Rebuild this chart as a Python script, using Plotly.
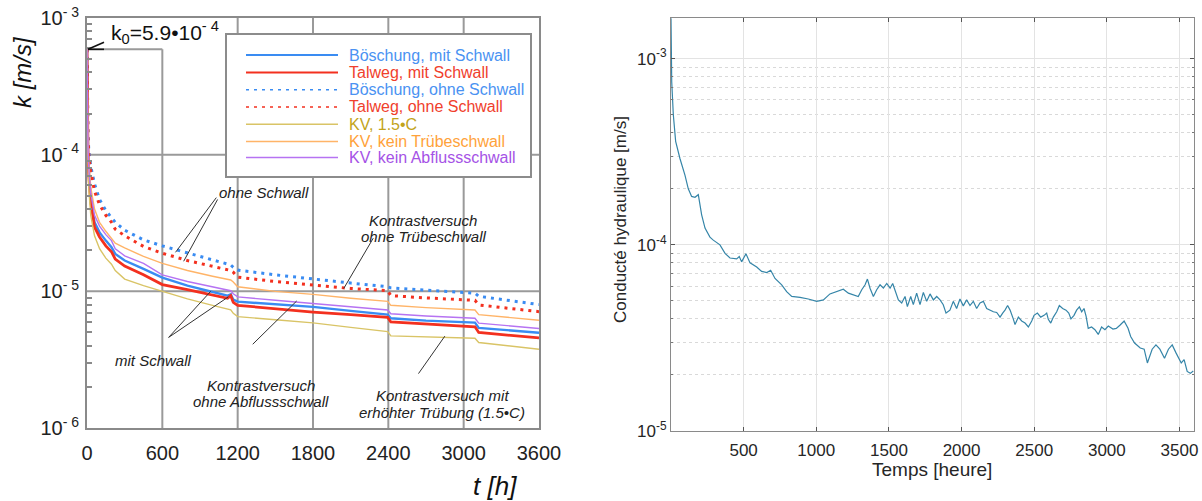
import math
import plotly.graph_objects as go

# ---------------------------------------------------------------- data
# left panel: permeability k [m/s] over time t [h]
T_LEFT = [0, 3, 8, 15, 30, 60, 100, 150, 195, 225, 300, 450, 600, 800, 1000,
          1120, 1145, 1165, 1200, 1500, 1800, 2100, 2395, 2420, 2700, 3090, 3120, 3600]

K_BOE_MIT = [5.9e-4, 1.9e-4, 1.05e-4, 7.2e-5, 4.8e-5, 3.2e-5, 2.7e-5, 2.35e-5, 2.1e-5, 1.88e-5,
             1.68e-5, 1.46e-5, 1.26e-5, 1.1e-5, 9.9e-6, 9.3e-6, 9.5e-6, 8.7e-6, 8.4e-6, 8.0e-6,
             7.7e-6, 7.2e-6, 6.75e-6, 6.35e-6, 6.1e-6, 5.9e-6, 5.4e-6, 4.98e-6]
K_TAL_MIT = [5.9e-4, 1.8e-4, 1.0e-4, 6.8e-5, 4.5e-5, 2.95e-5, 2.5e-5, 2.15e-5, 1.95e-5, 1.72e-5,
             1.53e-5, 1.32e-5, 1.12e-5, 1.03e-5, 9.4e-6, 8.9e-6, 9.3e-6, 8.3e-6, 7.9e-6, 7.45e-6,
             7.05e-6, 6.75e-6, 6.45e-6, 5.97e-6, 5.75e-6, 5.5e-6, 5.0e-6, 4.56e-6]
K_BOE_OHNE = [5.9e-4, 2.6e-4, 1.4e-4, 1.05e-4, 8.2e-5, 6.1e-5, 4.7e-5, 3.9e-5, 3.5e-5, 3.2e-5,
              2.8e-5, 2.38e-5, 2.15e-5, 1.92e-5, 1.7e-5, 1.59e-5, 1.56e-5, 1.5e-5, 1.43e-5, 1.32e-5,
              1.24e-5, 1.15e-5, 1.08e-5, 1.06e-5, 1.02e-5, 9.7e-6, 9.2e-6, 8.0e-6]
K_TAL_OHNE = [5.9e-4, 2.4e-4, 1.3e-4, 9.8e-5, 7.5e-5, 5.4e-5, 4.3e-5, 3.6e-5, 3.2e-5, 2.85e-5,
              2.55e-5, 2.13e-5, 1.9e-5, 1.68e-5, 1.52e-5, 1.44e-5, 1.42e-5, 1.38e-5, 1.27e-5, 1.18e-5,
              1.11e-5, 1.05e-5, 1.01e-5, 9.3e-6, 8.95e-6, 8.6e-6, 7.95e-6, 7.1e-6]
K_KV_15C = [5.9e-4, 1.6e-4, 9.0e-5, 5.5e-5, 3.6e-5, 2.55e-5, 2.05e-5, 1.75e-5, 1.58e-5, 1.42e-5,
            1.23e-5, 1.1e-5, 9.95e-6, 8.8e-6, 7.9e-6, 7.45e-6, 7.32e-6, 6.9e-6, 6.53e-6, 6.2e-6,
            5.88e-6, 5.45e-6, 5.07e-6, 4.72e-6, 4.63e-6, 4.54e-6, 4.22e-6, 3.77e-6]
K_KV_TRUEBE = [5.9e-4, 2.2e-4, 1.15e-4, 8.5e-5, 5.8e-5, 4.0e-5, 3.2e-5, 2.75e-5, 2.45e-5, 2.25e-5,
               2.08e-5, 1.8e-5, 1.6e-5, 1.42e-5, 1.29e-5, 1.23e-5, 1.21e-5, 1.17e-5, 1.08e-5, 1.0e-5,
               9.5e-6, 8.9e-6, 8.45e-6, 7.9e-6, 7.6e-6, 7.3e-6, 6.75e-6, 6.15e-6]
K_KV_ABFLUSS = [5.9e-4, 2.0e-4, 1.1e-4, 7.8e-5, 5.2e-5, 3.6e-5, 3.0e-5, 2.6e-5, 2.35e-5, 2.05e-5,
                1.82e-5, 1.6e-5, 1.32e-5, 1.18e-5, 1.08e-5, 1.03e-5, 1.01e-5, 9.6e-6, 9.1e-6, 8.6e-6,
                8.15e-6, 7.7e-6, 7.3e-6, 6.85e-6, 6.6e-6, 6.35e-6, 5.85e-6, 5.35e-6]

K0 = 5.9e-4
X_TICKS_LEFT = [0, 600, 1200, 1800, 2400, 3000, 3600]

SERIES_NAMES = ["Böschung, mit Schwall", "Talweg, mit Schwall", "Böschung, ohne Schwall",
                "Talweg, ohne Schwall", "KV, 1.5•C", "KV, kein Trübeschwall", "KV, kein Abflussschwall"]
SERIES_VALUES = [K_BOE_MIT, K_TAL_MIT, K_BOE_OHNE, K_TAL_OHNE, K_KV_15C, K_KV_TRUEBE, K_KV_ABFLUSS]
LINE_COLORS = ["#3a8cf2", "#f3301f", "#3a8cf2", "#f3301f", "#d9c466", "#ffb468", "#b673f2"]
TEXT_COLORS = ["#4a92f2", "#f0402c", "#4a92f2", "#f0402c", "#c2a31a", "#ffa23a", "#a552e6"]
LINE_DASH = ["solid", "solid", "3px,5px", "3px,5px", "solid", "solid", "solid"]
LINE_WIDTH = [2.4, 2.8, 3.0, 3.0, 1.4, 1.4, 1.4]

# right panel: hydraulic conductivity [m/s] over time [h]
T_RIGHT = [0, 5, 16, 32, 62, 96, 119, 142, 165, 188, 211, 234, 268, 291, 337, 372, 406, 452, 470,
           486, 516, 544, 590, 624, 659, 686, 716, 762, 796, 831, 888, 945, 1003, 1049, 1094, 1140,
           1186, 1221, 1255, 1289, 1313, 1336, 1352, 1370, 1393, 1416, 1439, 1462, 1485, 1508, 1526,
           1542, 1565, 1588, 1611, 1627, 1650, 1668, 1691, 1714, 1737, 1760, 1783, 1806, 1829, 1852,
           1874, 1893, 1920, 1943, 1966, 1989, 2012, 2035, 2058, 2081, 2104, 2127, 2150, 2173, 2196,
           2219, 2242, 2265, 2283, 2299, 2317, 2334, 2356, 2368, 2391, 2414, 2437, 2460, 2483, 2499,
           2522, 2545, 2568, 2586, 2597, 2614, 2632, 2655, 2673, 2696, 2719, 2738, 2753, 2774, 2792,
           2811, 2827, 2843, 2857, 2872, 2895, 2918, 2941, 2964, 2987, 3010, 3042, 3065, 3090, 3119,
           3146, 3164, 3191, 3230, 3257, 3279, 3312, 3338, 3365, 3397, 3424, 3450, 3477, 3512, 3532,
           3553, 3575, 3595]
K_RIGHT = [1.65e-3, 7.5e-4, 5.0e-4, 3.6e-4, 2.9e-4, 2.37e-4, 2.0e-4, 1.82e-4, 1.8e-4, 1.86e-4,
           1.45e-4, 1.23e-4, 1.1e-4, 1.06e-4, 1.0e-4, 9.0e-5, 8.5e-5, 8.4e-5, 8.65e-5, 8.1e-5,
           8.95e-5, 8.0e-5, 7.6e-5, 7.2e-5, 7.1e-5, 7.3e-5, 6.6e-5, 6.1e-5, 5.6e-5, 5.28e-5,
           5.22e-5, 5.12e-5, 4.97e-5, 5.06e-5, 5.45e-5, 5.62e-5, 5.78e-5, 5.5e-5, 5.4e-5, 5.28e-5,
           5.74e-5, 6.1e-5, 6.55e-5, 5.85e-5, 5.28e-5, 5.74e-5, 6.1e-5, 5.85e-5, 6.2e-5, 5.85e-5,
           6.2e-5, 5.74e-5, 5.06e-5, 4.87e-5, 5.28e-5, 4.66e-5, 5.28e-5, 4.77e-5, 5.5e-5, 4.77e-5,
           5.55e-5, 4.97e-5, 5.45e-5, 5.06e-5, 5.28e-5, 5.06e-5, 4.77e-5, 4.3e-5, 4.46e-5, 4.97e-5,
           4.55e-5, 5.12e-5, 4.7e-5, 5.06e-5, 4.72e-5, 4.97e-5, 4.55e-5, 4.87e-5, 4.97e-5, 4.55e-5,
           4.46e-5, 4.37e-5, 4.33e-5, 4.09e-5, 4.3e-5, 4.46e-5, 4.72e-5, 4.46e-5, 4.0e-5, 3.73e-5,
           4.09e-5, 3.9e-5, 3.8e-5, 3.62e-5, 3.9e-5, 4.18e-5, 4.3e-5, 4.09e-5, 4.18e-5, 4.3e-5,
           3.98e-5, 3.8e-5, 4.09e-5, 4.37e-5, 4.72e-5, 4.55e-5, 4.46e-5, 4.3e-5, 4.0e-5, 4.18e-5,
           4.46e-5, 4.64e-5, 4.37e-5, 4.55e-5, 4.14e-5, 3.56e-5, 3.62e-5, 3.5e-5, 3.3e-5, 3.62e-5,
           3.5e-5, 3.66e-5, 3.53e-5, 3.56e-5, 3.7e-5, 3.9e-5, 3.56e-5, 3.22e-5, 2.97e-5, 2.79e-5,
           2.75e-5, 2.32e-5, 2.75e-5, 2.9e-5, 2.75e-5, 2.46e-5, 2.75e-5, 2.9e-5, 2.62e-5, 2.32e-5,
           2.42e-5, 2.09e-5, 2.04e-5, 2.1e-5]
X_TICKS_RIGHT = [500, 1000, 1500, 2000, 2500, 3000, 3500]

# ---------------------------------------------------------------- layout helpers
W, H = 1202, 501
FONT = "Liberation Sans, Arial, Helvetica, sans-serif"


def px_x(p):
    return p / W


def px_y(p):
    return 1 - p / H


fig = go.Figure()

for name, vals, col, dash, wid in zip(SERIES_NAMES, SERIES_VALUES, LINE_COLORS, LINE_DASH, LINE_WIDTH):
    fig.add_trace(go.Scatter(x=T_LEFT, y=vals, mode="lines", name=name, showlegend=False,
                             line=dict(color=col, dash=dash, width=wid),
                             xaxis="x", yaxis="y"))

fig.add_trace(go.Scatter(x=T_RIGHT, y=K_RIGHT, mode="lines", showlegend=False,
                         line=dict(color="#3585a8", width=1.2), xaxis="x2", yaxis="y2"))

shapes = []
annotations = []
GRID = "#9a9a9a"

# left panel grid (the 600 h line stops at the k0 marker line)
for xv in X_TICKS_LEFT[1:-1]:
    top = K0 if xv == 600 else 1e-3
    shapes.append(dict(type="line", xref="x", yref="y", x0=xv, x1=xv, y0=1e-6, y1=top,
                       line=dict(color=GRID, width=2), layer="below"))
for yv in [1e-5, 1e-4]:
    shapes.append(dict(type="line", xref="x", yref="y", x0=0, x1=3600, y0=yv, y1=yv,
                       line=dict(color=GRID, width=2), layer="below"))

# k0 marker line with open arrowhead at the axis
shapes.append(dict(type="line", xref="x", yref="y", x0=0, x1=600, y0=K0, y1=K0,
                   line=dict(color=GRID, width=2), layer="below"))
for dy in (-7, 7):
    shapes.append(dict(type="line", xref="x", yref="y", xsizemode="pixel", xanchor=0,
                       ysizemode="pixel", yanchor=K0, x0=1, x1=17, y0=0, y1=dy,
                       line=dict(color="#111111", width=1.6), layer="above"))
annotations.append(dict(xref="paper", yref="paper", x=px_x(109), y=px_y(32), xanchor="left",
                        yanchor="middle", showarrow=False,
                        text="k<sub>0</sub>=5.9•10<sup>- 4</sup>",
                        font=dict(family=FONT, size=21, color="#111111")))

# custom legend box
LEG_X0, LEG_X1, LEG_Y0, LEG_Y1 = 226, 531, 34, 177
shapes.append(dict(type="rect", xref="paper", yref="paper", x0=px_x(LEG_X0), x1=px_x(LEG_X1),
                   y0=px_y(LEG_Y1), y1=px_y(LEG_Y0), fillcolor="white",
                   line=dict(color="#8c8c8c", width=2), layer="above"))
row_y = [55, 72.5, 89.8, 107, 124.2, 141.5, 157.5]
for i, name in enumerate(SERIES_NAMES):
    yy = px_y(row_y[i])
    shapes.append(dict(type="line", xref="paper", yref="paper", x0=px_x(246), x1=px_x(338),
                       y0=yy, y1=yy, layer="above",
                       line=dict(color=LINE_COLORS[i], dash=LINE_DASH[i],
                                 width=min(LINE_WIDTH[i], 2.2) if LINE_DASH[i] == "solid" else 1.6)))
    annotations.append(dict(xref="paper", yref="paper", x=px_x(347), y=yy, xanchor="left",
                            yanchor="middle", showarrow=False, text=name,
                            font=dict(family=FONT, size=16, color=TEXT_COLORS[i])))

# callout labels (one annotation per text line) with leader lines
ITAL = dict(family=FONT, size=15, color="#222222")
callouts = [
    (["ohne Schwall"], 264, [193],
     [((1030, 4.85e-5), (705, 1.93e-5)), ((1040, 4.7e-5), (770, 1.66e-5))]),
    (["Kontrastversuch", "ohne Trübeschwall"], 423, [220, 236],
     [((2280, 2.45e-5), (2045, 1.05e-5))]),
    (["mit Schwall"], 153, [360],
     [((650, 4.6e-6), (985, 1.0e-5)), ((650, 4.6e-6), (1125, 9.1e-6))]),
    (["Kontrastversuch", "ohne Abflussschwall"], 261, [385, 401],
     [((1320, 4.1e-6), (1670, 8.5e-6))]),
    (["Kontrastversuch mit", "erhöhter Trübung (1.5•C)"], 442, [395, 412],
     [((2640, 2.5e-6), (2850, 4.7e-6))]),
]
for lines, cx, ys, leaders in callouts:
    for text, cy in zip(lines, ys):
        annotations.append(dict(xref="paper", yref="paper", x=px_x(cx), y=px_y(cy),
                                xanchor="center", yanchor="middle", showarrow=False,
                                text=f"<i>{text}</i>", font=ITAL))
    for (xa, ya), (xb, yb) in leaders:
        shapes.append(dict(type="line", xref="x", yref="y", x0=xa, y0=ya, x1=xb, y1=yb,
                           line=dict(color="#333333", width=1), layer="above"))

# axis titles
TITLE_POS = dict(xref="paper", yref="paper", xanchor="center", yanchor="middle", showarrow=False)
annotations.append(dict(TITLE_POS, x=px_x(22), y=px_y(72), text="<i>k [m/s]</i>", textangle=-90,
                        font=dict(family=FONT, size=24, color="#111111")))
annotations.append(dict(TITLE_POS, x=px_x(495), y=px_y(486), text="<i>t [h]</i>",
                        font=dict(family=FONT, size=26, color="#111111")))
annotations.append(dict(TITLE_POS, x=px_x(932), y=px_y(469), text="Temps [heure]",
                        font=dict(family=FONT, size=19, color="#262626")))
annotations.append(dict(TITLE_POS, x=px_x(620), y=px_y(220), text="Conducté hydraulique [m/s]",
                        textangle=-90, font=dict(family=FONT, size=17, color="#262626")))

minor_left = [m * 10 ** e for e in (-6, -5, -4) for m in range(2, 10)]
minor_right = [m * 10 ** e for e in (-5, -4, -3) for m in range(2, 10) if m * 10 ** e < 1.66e-3]

fig.update_layout(
    width=W, height=H, margin=dict(l=0, r=0, t=0, b=0, autoexpand=False),
    paper_bgcolor="white", plot_bgcolor="white", showlegend=False,
    shapes=shapes, annotations=annotations,
    xaxis=dict(domain=[px_x(87), px_x(539)], range=[0, 3600], tickvals=X_TICKS_LEFT,
               ticktext=[str(v) for v in X_TICKS_LEFT], showgrid=False, zeroline=False,
               showline=True, mirror=True, linecolor="#8a8a8a", linewidth=2, ticks="",
               ticklabelstandoff=6, automargin=False,
               tickfont=dict(family=FONT, size=20, color="#222222"), anchor="y"),
    yaxis=dict(domain=[px_y(428), px_y(18)], type="log", range=[-6, -3],
               tickvals=[1e-6, 1e-5, 1e-4, 1e-3],
               ticktext=["10<sup>- 6</sup>", "10<sup>- 5</sup>", "10<sup>- 4</sup>", "10<sup>- 3</sup>"],
               showgrid=False, zeroline=False, showline=True, mirror=True, linecolor="#8a8a8a",
               linewidth=2, ticks="", ticklabelstandoff=2, automargin=False,
               minor=dict(tickvals=minor_left, ticks="inside", ticklen=5, tickcolor="#8a8a8a",
                          tickwidth=1.5, showgrid=False),
               tickfont=dict(family=FONT, size=20, color="#222222"), anchor="x"),
    xaxis2=dict(domain=[px_x(671), px_x(1194)], range=[0, 3600], tickvals=X_TICKS_RIGHT,
                showgrid=True, gridcolor="#e3e3e3", gridwidth=1, zeroline=False,
                showline=True, mirror="ticks", linecolor="#8a8a8a", linewidth=1,
                ticks="inside", ticklen=4, tickcolor="#555555", automargin=False,
                ticklabelstandoff=4,
                tickfont=dict(family=FONT, size=17, color="#262626"), anchor="y2"),
    yaxis2=dict(domain=[px_y(431), px_y(17.7)], type="log", range=[-5, math.log10(1.66e-3)],
                tickvals=[1e-5, 1e-4, 1e-3],
                ticktext=["10<sup>-5</sup>", "10<sup>-4</sup>", "10<sup>-3</sup>"],
                showgrid=True, gridcolor="#e3e3e3", gridwidth=1, zeroline=False,
                showline=True, mirror="ticks", linecolor="#8a8a8a", linewidth=1,
                ticks="inside", ticklen=4, tickcolor="#555555", automargin=False,
                minor=dict(tickvals=minor_right, ticks="inside", ticklen=2, tickcolor="#777777",
                           showgrid=True, gridcolor="#d9d9d9", griddash="dot", gridwidth=1),
                tickfont=dict(family=FONT, size=17, color="#262626"), anchor="x2"),
)

fig.write_html("out.html")
